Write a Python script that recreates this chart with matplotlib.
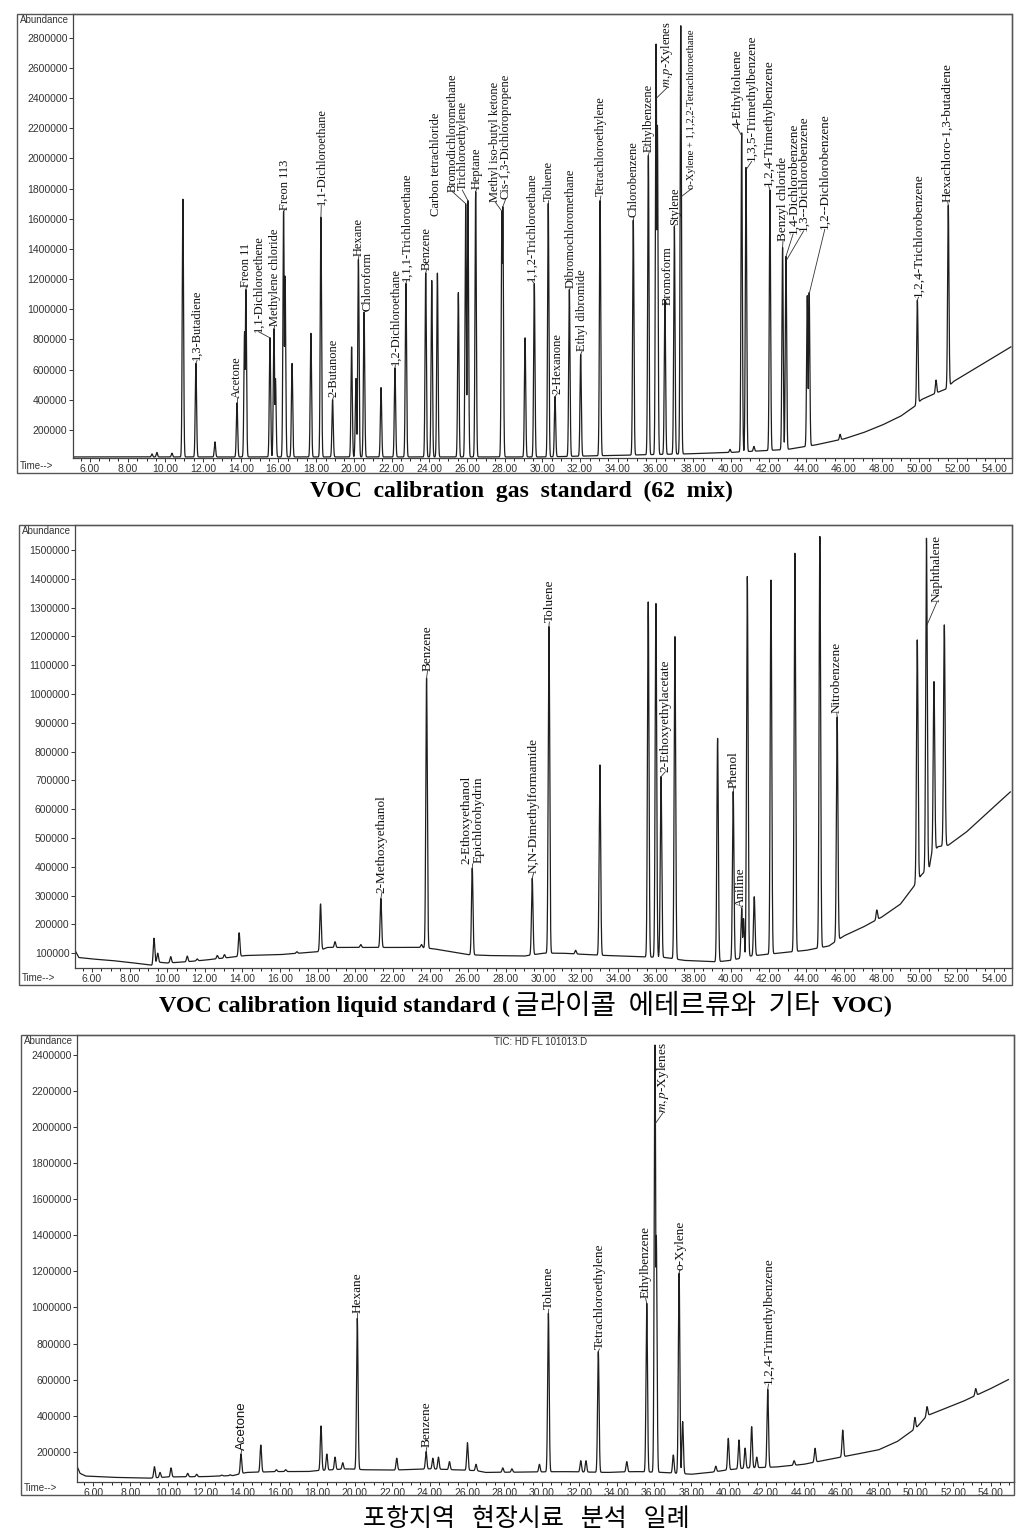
import numpy as np
import matplotlib
matplotlib.use("Agg")
import matplotlib.pyplot as plt
from matplotlib.patches import Rectangle
from matplotlib.ticker import MultipleLocator

plt.rcParams["mathtext.fontset"] = "stix"

W, H = 1022, 1538

# === 1. PANEL 1: VOC calibration gas standard (62 mix) ===
p1_peak_t = [9.29, 9.55, 10.35, 10.93, 11.62, 12.63, 13.80, 14.20, 14.27, 15.55, 15.76, 15.84,
             16.27, 16.35, 16.72, 17.72, 18.25, 18.87, 19.88, 20.11, 20.24, 20.54, 21.44, 22.18,
             22.76, 23.81, 24.13, 24.43, 25.54, 25.93, 26.05, 26.46, 27.85, 27.90, 29.08, 29.57,
             30.31, 30.67, 31.43, 32.03, 33.06, 34.82, 35.62, 36.03, 36.10, 36.50, 37.00, 37.34,
             39.95, 40.57, 40.80, 41.22, 42.07, 42.74, 42.92, 44.05, 44.15, 45.79, 49.89, 50.88, 51.53]
p1_peak_h = [0.04, 0.05, 0.045, 1.73, 0.64, 0.12, 0.38, 0.85, 1.13, 0.81, 0.87, 0.54,
             1.65, 1.22, 0.64, 0.84, 1.61, 0.40, 0.75, 0.54, 1.33, 0.98, 0.48, 0.61,
             1.17, 1.24, 1.19, 1.24, 1.11, 1.70, 1.72, 1.78, 1.65, 1.68, 0.81, 1.17,
             1.70, 0.42, 1.13, 0.70, 1.72, 1.59, 2.02, 2.76, 2.22, 1.06, 1.55, 2.88,
             0.07, 2.17, 1.94, 0.09, 1.79, 1.41, 1.35, 1.09, 1.11, 0.17, 1.06, 0.53, 1.69]
p1_base_t = [5.1, 30.0, 37.5, 40.0, 43.0, 44.5, 46.0, 47.0, 48.0, 49.0, 49.8, 50.1, 51.0, 51.4, 51.8, 53.0, 54.85]
p1_base_v = [0.02, 0.02, 0.04, 0.05, 0.07, 0.10, 0.14, 0.18, 0.23, 0.29, 0.36, 0.40, 0.45, 0.47, 0.52, 0.61, 0.75]
p1_labels = ["1,3-Butadiene", "Acetone", "Freon 11", "1,1-Dichloroethene", "Methylene chloride",
             "Freon 113", "1,1-Dichloroethane", "2-Butanone", "Hexane", "Chloroform",
             "1,2-Dichloroethane", "1,1,1-Trichloroethane", "Benzene", "Carbon tetrachloride",
             "Bromodichloromethane", "Trichloroethylene", "Heptane", "Methyl iso-butyl ketone",
             "Cis-1,3-Dichloropropene", "1,1,2-Trichloroethane", "Toluene", "2-Hexanone",
             "Dibromochloromethane", "Ethyl dibromide", "Tetrachloroethylene", "Chlorobenzene",
             "Ethylbenzene", "$m,p$-Xylenes", "Bromoform", "Stylene",
             "o-Xylene + 1,1,2,2-Tetrachloroethane", "4-Ethyltoluene", "1,3,5-Trimethylbenzene",
             "1,2,4-Trimethylbenzene", "Benzyl chloride", "1,4-Dichlorobenzene",
             "1,3--Dichlorobenzene", "1,2--Dichlorobenzene", "1,2,4-Trichlorobenzene",
             "Hexachloro-1,3-butadiene"]
p1_text_t = [11.68, 13.80, 14.30, 14.95, 15.80, 16.35, 18.27, 18.92, 20.26, 20.70,
             22.20, 22.80, 23.85, 24.35, 25.22, 25.75, 26.52, 27.50, 28.05, 29.45,
             30.33, 30.78, 31.48, 32.10, 33.10, 34.85, 35.66, 36.62, 36.62, 37.05,
             37.92, 40.35, 41.10, 42.00, 42.76, 43.30, 43.86, 44.98, 49.95, 51.50]
p1_text_v = [0.66, 0.41, 1.15, 0.85, 0.89, 1.66, 1.69, 0.42, 1.35, 0.99,
             0.63, 1.19, 1.26, 1.62, 1.78, 1.79, 1.80, 1.71, 1.73, 1.19,
             1.72, 0.44, 1.14, 0.72, 1.75, 1.61, 2.04, 2.47, 1.03, 1.56,
             1.80, 2.20, 1.98, 1.82, 1.45, 1.50, 1.52, 1.53, 1.08, 1.71]
p1_anchor_t = [11.62, 13.80, 14.27, 15.55, 15.76, 16.27, 18.25, 18.87, 20.24, 20.54,
               22.18, 22.76, 23.81, 24.35, 25.93, 26.05, 26.46, 27.85, 27.90, 29.57,
               30.31, 30.67, 31.43, 32.03, 33.06, 34.82, 35.62, 36.05, 36.50, 37.00,
               37.40, 40.57, 40.83, 42.07, 42.74, 42.92, 42.97, 44.09, 49.89, 51.53]
p1_anchor_v = [0.64, 0.38, 1.13, 0.81, 0.87, 1.65, 1.61, 0.40, 1.33, 0.98,
               0.61, 1.17, 1.24, 1.62, 1.70, 1.72, 1.78, 1.65, 1.68, 1.17,
               1.70, 0.42, 1.13, 0.70, 1.72, 1.59, 2.02, 2.40, 1.06, 1.55,
               1.75, 2.15, 1.93, 1.79, 1.41, 1.35, 1.33, 1.07, 1.06, 1.69]
p1_yticks = [200000 * i for i in range(1, 15)]

# === 2. PANEL 2: VOC calibration liquid standard ===
p2_peak_t = [9.30, 9.50, 10.19, 11.07, 11.60, 12.67, 13.05, 13.83, 16.90, 18.16, 18.93, 20.30,
             21.37, 23.53, 23.80, 26.23, 29.42, 30.31, 31.73, 33.02, 35.59, 36.00, 36.27, 37.01,
             39.28, 40.11, 40.56, 40.66, 40.86, 41.23, 42.12, 43.39, 44.72, 45.64, 47.75, 49.90,
             50.39, 50.79, 51.34]
p2_peak_h = [0.152, 0.10, 0.088, 0.09, 0.08, 0.092, 0.095, 0.171, 0.105, 0.271, 0.14, 0.13,
             0.29, 0.13, 1.055, 0.395, 0.36, 1.234, 0.11, 0.754, 1.32, 1.315, 0.713, 1.2,
             0.846, 0.661, 0.256, 0.22, 1.408, 0.296, 1.396, 1.489, 1.547, 0.92, 0.25, 1.188,
             1.541, 1.043, 1.24]
p2_base_t = [5.1, 5.3, 6.0, 7.0, 8.0, 9.2, 9.35, 10.0, 11.0, 12.0, 13.0, 14.2, 16.0, 17.0, 18.0,
             18.5, 19.0, 21.0, 22.0, 23.5, 24.2, 26.0, 27.0, 29.0, 30.0, 31.0, 33.0, 35.0, 36.5,
             37.5, 39.2, 40.0, 41.0, 42.5, 44.0, 45.2, 46.0, 47.0, 48.0, 49.0, 49.7, 50.1, 50.55,
             50.65, 51.0, 51.55, 52.5, 53.5, 54.85]
p2_base_v = [0.11, 0.085, 0.08, 0.075, 0.068, 0.058, 0.07, 0.066, 0.07, 0.076, 0.083, 0.092, 0.095,
             0.10, 0.105, 0.12, 0.12, 0.12, 0.12, 0.12, 0.115, 0.095, 0.092, 0.09, 0.10, 0.10, 0.093,
             0.088, 0.085, 0.075, 0.07, 0.075, 0.09, 0.10, 0.11, 0.125, 0.16, 0.19, 0.225, 0.27,
             0.33, 0.37, 0.40, 0.44, 0.47, 0.475, 0.52, 0.58, 0.66]
p2_labels = ["2-Methoxyethanol", "Benzene", "2-Ethoxyethanol\nEpichlorohydrin",
             "N,N-Dimethylformamide", "Toluene", "2-Ethoxyethylacetate", "Phenol", "Aniline",
             "Nitrobenzene", "Naphthalene"]
p2_text_t = [21.42, 23.85, 26.25, 29.50, 30.33, 36.50, 40.15, 40.52, 45.62, 50.95]
p2_text_v = [0.31, 1.08, 0.41, 0.38, 1.25, 0.73, 0.675, 0.26, 0.935, 1.32]
p2_anchor_t = [21.37, 23.80, 26.23, 29.42, 30.31, 36.27, 40.11, 40.56, 45.64, 50.42]
p2_anchor_v = [0.29, 1.055, 0.395, 0.36, 1.234, 0.713, 0.661, 0.256, 0.92, 1.24]
p2_yticks = [100000 * i for i in range(1, 16)]

# === 3. PANEL 3: field sample ===
p3_peak_t = [9.28, 9.58, 10.17, 11.06, 11.54, 12.88, 13.33, 13.91, 14.97, 15.80, 16.30, 18.19,
             18.50, 18.94, 19.35, 20.13, 22.24, 23.81, 24.17, 24.47, 25.06, 26.02, 26.48, 27.91,
             28.40, 29.87, 30.35, 32.08, 32.36, 33.02, 34.54, 35.61, 36.05, 36.12, 37.03, 37.34,
             37.53, 39.30, 39.97, 40.54, 40.87, 41.22, 41.49, 42.08, 43.49, 44.61, 46.09, 49.95,
             50.60, 53.20]
p3_peak_h = [0.117, 0.085, 0.11, 0.08, 0.075, 0.07, 0.072, 0.187, 0.237, 0.10, 0.10, 0.343,
             0.187, 0.17, 0.139, 0.94, 0.164, 0.20, 0.164, 0.17, 0.145, 0.25, 0.13, 0.11,
             0.105, 0.13, 0.968, 0.15, 0.15, 0.755, 0.145, 1.023, 2.456, 1.40, 0.182, 1.19,
             0.367, 0.12, 0.274, 0.265, 0.22, 0.339, 0.17, 0.546, 0.15, 0.219, 0.32, 0.39,
             0.45, 0.55]
p3_base_t = [5.14, 5.3, 5.6, 7.0, 9.0, 10.0, 12.0, 13.5, 14.2, 16.0, 17.5, 18.0, 19.6, 20.5, 22.0,
             24.0, 26.5, 27.0, 30.0, 31.0, 33.5, 35.0, 36.5, 38.0, 39.0, 40.0, 41.0, 42.5, 44.0,
             45.0, 46.5, 48.0, 49.0, 50.0, 50.6, 52.5, 54.0, 54.95]
p3_base_v = [0.12, 0.08, 0.065, 0.058, 0.053, 0.06, 0.062, 0.068, 0.085, 0.09, 0.09, 0.095, 0.105,
             0.10, 0.098, 0.105, 0.095, 0.085, 0.088, 0.09, 0.085, 0.09, 0.085, 0.075, 0.085, 0.10,
             0.11, 0.115, 0.13, 0.15, 0.18, 0.21, 0.256, 0.33, 0.40, 0.478, 0.55, 0.60]
p3_labels = ["Acetone", "Hexane", "Benzene", "Toluene", "Tetrachloroethylene", "Ethylbenzene",
             "$m,p$-Xylenes", "o-Xylene", "1,2,4-Trimethylbenzene"]
p3_text_t = [13.95, 20.13, 23.85, 30.37, 33.08, 35.55, 36.48, 37.39, 42.12]
p3_text_v = [0.21, 0.97, 0.225, 0.99, 0.77, 1.05, 2.08, 1.21, 0.575]
p3_anchor_t = [13.91, 20.13, 23.81, 30.35, 33.02, 35.61, 36.07, 37.34, 42.08]
p3_anchor_v = [0.187, 0.94, 0.20, 0.968, 0.755, 1.023, 2.02, 1.19, 0.546]
p3_yticks = [200000 * i for i in range(1, 13)]

caption1 = "VOC  calibration  gas  standard  (62  mix)"
caption2_a = "VOC calibration liquid standard ("
caption2_b = "글라이콜  에테르류와  기타"
caption2_c = "VOC)"
caption3 = "포항지역   현장시료   분석   일례"


def trace(t_grid, peak_t, peak_h, base_t, base_v, sigma):
    base = np.interp(t_grid, base_t, base_v)
    sig = base.copy()
    for pt, ph in zip(peak_t, peak_h):
        amp = ph - np.interp(pt, base_t, base_v)
        sig = np.maximum(sig, base + amp * np.exp(-0.5 * ((t_grid - pt) / sigma) ** 2))
    return sig * 1e6


def panel(frame, inner, xlim, ylim, yticks, peak_t, peak_h, base_t, base_v, sigma,
          names, text_t, text_v, anc_t, anc_v, sizes, sans_first=False):
    l, t, r, b = frame
    fig.patches.append(Rectangle((l / W, 1 - b / H), (r - l) / W, (b - t) / H, fill=False,
                                 edgecolor="#555555", lw=1.0, transform=fig.transFigure))
    il, it, ir, ib = inner
    ax = fig.add_axes([il / W, 1 - ib / H, (ir - il) / W, (ib - it) / H])
    ax.patch.set_alpha(0)
    tg = np.linspace(base_t[0], base_t[-1], 20000)
    ax.plot(tg, trace(tg, peak_t, peak_h, base_t, base_v, sigma), color="#1e1e1e", lw=0.9)
    ax.set_xlim(*xlim)
    ax.set_ylim(ylim[0] * 1e6, ylim[1] * 1e6)
    ax.set_xticks(np.arange(6, 55, 2))
    ax.set_xticklabels(["%.2f" % v for v in np.arange(6, 55, 2)])
    ax.xaxis.set_minor_locator(MultipleLocator(0.5))
    ax.set_yticks(yticks)
    ax.set_yticklabels([str(v) for v in yticks])
    ax.tick_params(labelsize=7.5, length=3, width=0.7, colors="#333333", pad=1)
    ax.tick_params(which="minor", length=2, width=0.6)
    for lab in ax.get_xticklabels() + ax.get_yticklabels():
        lab.set_family("Liberation Sans")
    for s in ax.spines.values():
        s.set_color("#444444")
        s.set_linewidth(0.9)
    for i, name in enumerate(names):
        ax.plot([anc_t[i], text_t[i]], [anc_v[i] * 1e6, text_v[i] * 1e6], color="#333333", lw=0.6)
        fam = "Liberation Sans" if (sans_first and i == 0) else "Liberation Serif"
        ax.text(text_t[i], text_v[i] * 1e6, name, rotation=90, ha="center", va="bottom",
                fontsize=sizes[i], family=fam, color="#111111", linespacing=0.95)
    fig.text(l / W + 0.003, 1 - (t + 6) / H, "Abundance", fontsize=7, family="Liberation Sans",
             va="center", ha="left", color="#333333")
    fig.text(l / W + 0.003, 1 - (b - 7) / H, "Time-->", fontsize=7, family="Liberation Sans",
             va="center", ha="left", color="#333333")
    return ax


fig = plt.figure(figsize=(W / 100, H / 100), dpi=100)

# label sizes: right-hand labels of the gas standard are printed a bit larger, the long one smaller
p1_sizes = [7.6 if len(n) > 30 else (9.5 if tt > 39 else 9) for n, tt in zip(p1_labels, p1_text_t)]
panel((17, 14, 1012, 473), (73, 14, 1012, 458), (5.10, 54.91), (0.013, 2.958), p1_yticks,
      p1_peak_t, p1_peak_h, p1_base_t, p1_base_v, 0.035,
      p1_labels, p1_text_t, p1_text_v, p1_anchor_t, p1_anchor_v, p1_sizes)
panel((19, 525, 1012, 985), (75, 525, 1012, 968), (5.10, 54.94), (0.0486, 1.587), p2_yticks,
      p2_peak_t, p2_peak_h, p2_base_t, p2_base_v, 0.04,
      p2_labels, p2_text_t, p2_text_v, p2_anchor_t, p2_anchor_v, [9.5] * len(p2_labels))
panel((21, 1035, 1014, 1495), (77, 1035, 1014, 1482), (5.14, 55.25), (0.032, 2.511), p3_yticks,
      p3_peak_t, p3_peak_h, p3_base_t, p3_base_v, 0.04,
      p3_labels, p3_text_t, p3_text_v, p3_anchor_t, p3_anchor_v, [9.5] * len(p3_labels),
      sans_first=True)

fig.text(541 / W, 1 - 1042 / H, "TIC: HD FL 101013.D", fontsize=7, family="Liberation Sans",
         ha="center", va="center", color="#333333")

fig.text(521 / W, 1 - 491 / H, caption1, fontsize=17, weight="bold",
         family="Liberation Serif", ha="center", va="center")

# caption 2: bold serif latin parts around a regular-weight Korean part, laid out in a row
cy = 1 - 1006 / H
parts = [fig.text(0, cy, caption2_a, fontsize=17.4, weight="bold", family="Liberation Serif",
                  ha="left", va="center"),
         fig.text(0, cy, caption2_b, fontsize=20, family="Noto Sans CJK KR",
                  ha="left", va="center"),
         fig.text(0, cy, caption2_c, fontsize=17.4, weight="bold", family="Liberation Serif",
                  ha="left", va="center")]
renderer = fig.canvas.get_renderer()
widths = [p.get_window_extent(renderer).width for p in parts]
gaps = [4, 12]
x = 526 - (sum(widths) + sum(gaps)) / 2
for i, p in enumerate(parts):
    p.set_x(x / W)
    x += widths[i] + (gaps[i] if i < 2 else 0)

fig.text(526 / W, 1 - 1519 / H, caption3, fontsize=18,
         family="Noto Sans CJK KR", ha="center", va="center")

fig.savefig("out.png", dpi=100)
